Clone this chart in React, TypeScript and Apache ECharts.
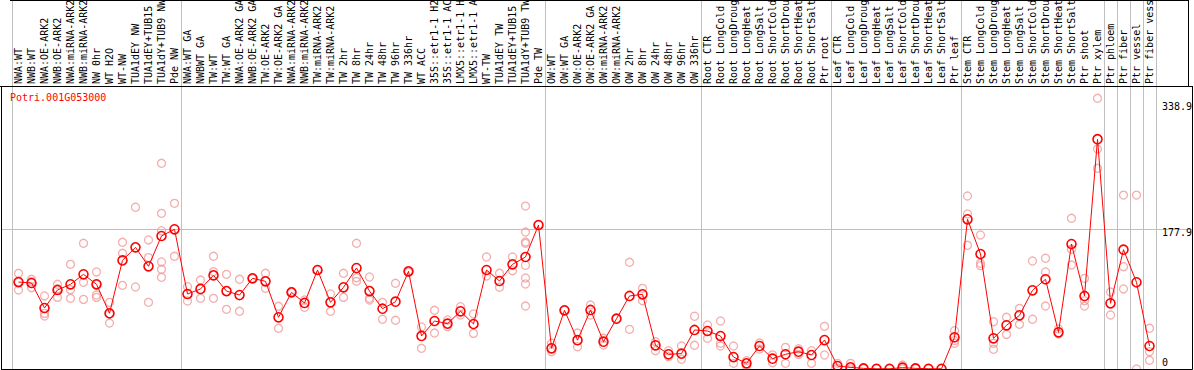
import React, { useEffect, useRef } from 'react';
import * as echarts from 'echarts';

const title = 'Potri.001G053000';

const categories = [
  'NWA:WT', 'NWB:WT', 'NWA:OE-ARK2', 'NWB:OE-ARK2', 'NWA:miRNA-ARK2', 'NWB:miRNA-ARK2', 'NW 0hr', 'WT H2O', 'WT-NW',
  'TUA1dEY NW', 'TUA1dEY+TUB15 NW', 'TUA1dY+TUB9 NW', 'Pde NW',
  'NWA:WT GA', 'NWBWT GA', 'TW:WT', 'TW:WT GA', 'NWA:OE-ARK2 GA', 'NWB:OE-ARK2 GA', 'TW:OE-ARK2', 'TW:OE-ARK2 GA',
  'NWA:miRNA-ARK2', 'NWB:miRNA-ARK2', 'TW:miRNA-ARK2', 'TW:miRNA-ARK2', 'TW 2hr', 'TW 8hr', 'TW 24hr', 'TW 48hr',
  'TW 96hr', 'TW 336hr', 'WT ACC', '35S::etr1-1 H2O', '35S::etr1-1 ACC', 'LMX5::etr1-1 H2O', 'LMX5::etr1-1 ACC',
  'WT-TW', 'TUA1dEY TW', 'TUA1dEY+TUB15 TW', 'TUA1dY+TUB9 TW', 'Pde TW',
  'OW:WT', 'OW:WT GA', 'OW:OE-ARK2', 'OW:OE-ARK2 GA', 'OW:miRNA-ARK2', 'OW:miRNA-ARK2', 'OW 2hr', 'OW 8hr',
  'OW 24hr', 'OW 48hr', 'OW 96hr', 'OW 336hr',
  'Root CTR', 'Root LongCold', 'Root LongDrought', 'Root LongHeat', 'Root LongSalt', 'Root ShortCold',
  'Root ShortDrought', 'Root ShortHeat', 'Root ShortSalt', 'Ptr root',
  'Leaf CTR', 'Leaf LongCold', 'Leaf LongDrought', 'Leaf LongHeat', 'Leaf LongSalt', 'Leaf ShortCold',
  'Leaf ShortDrought', 'Leaf ShortHeat', 'Leaf ShortSalt', 'Ptr leaf',
  'Stem CTR', 'Stem LongCold', 'Stem LongDrought', 'Stem LongHeat', 'Stem LongSalt', 'Stem ShortCold',
  'Stem ShortDrought', 'Stem ShortHeat', 'Stem ShortSalt', 'Ptr shoot', 'Ptr xylem',
  'Ptr phloem', 'Ptr fiber', 'Ptr vessel', 'Ptr fiber vessel',
];

const means = [
  110.5, 109.3, 77.5, 100.4, 107.6, 120.3, 107.6, 70.8, 138, 154.6, 130.5, 169, 177.5,
  95.3, 101.7, 119, 99, 94, 115.2, 111.4, 65.7, 97.4, 83.9, 125.8, 84.7, 103.8, 128.3, 99, 76.6,
  85.5, 124.1, 42, 61, 57.6, 73.3, 57.2, 125.8, 111.8, 133, 142.3, 183,
  26.3, 74.6, 36.6, 75, 34.7, 63.9, 92.8, 94.9, 30.1, 18.7, 19.5, 49.6,
  48.3, 41.9, 15.2, 7.2, 29.2, 13.1, 18.7, 22, 17.8, 36.8,
  3.8, 2.1, 0.8, 0.3, 0.3, 1.7, 0.8, 0.3, 0.3, 40.3,
  190.2, 146.1, 39, 55.5, 68.2, 100, 114, 46.6, 158.8, 92.8, 292,
  83.5, 151.6, 110.2, 29.2,
];

const replicates = [
  [121.6, 100.4, 110.5], [114, 103.3, 111], [92.8, 70.7, 67.3], [107.6, 91, 102], [133, 100.8, 89.8],
  [159.7, 110.2, 88.5], [123.3, 107.6, 94, 91], [84.7, 58.4, 70], [161, 147, 106.3], [205.5, 104.2],
  [164, 141.5, 84.7], [261.4, 197.8, 175.7, 136, 126.7, 116.5], [210.5, 143.2],
  [104.6, 86.4], [113, 89.8], [143.2, 123.7, 89.8], [120.3, 75.8], [114, 73.3], [115.2, 115],
  [121.6, 102.5], [79.7, 51.7], [97.4, 98.5], [87.7, 78.4], [125.8], [95.3, 73.3], [121.6, 91],
  [159.7, 116, 111.4], [116.9, 89.8, 87.7], [84.7, 63.2], [108.9, 61.9], [124.1, 123],
  [53.4, 26.3], [74.6, 45.7], [62.3, 53.8], [79.2, 68.6], [69.9, 45.3], [142.3, 118.2],
  [121.6, 103.8], [142.3, 124.9], [207, 174, 161.4, 159.7, 131.8, 115.6, 108, 80], [183],
  [32.7, 22], [74.6], [45.7, 28.3], [81.3, 68.6], [39, 30.5], [63.9], [135.6, 50.4], [102.5, 86.8],
  [34.7, 23.3], [23.3, 15.6], [29.2, 12.3], [67, 30.1],
  [55.9, 39], [61, 32.7, 29.2], [29.2, 7.2], [10.6, 4], [25.4, 33], [8, 18], [27.5, 7.2], [25.8, 18.6],
  [23.3, 7.2], [54.2, 17.8],
  [7.2, 1], [7.2, 0], [0.8], [0.3], [0.3], [5, 0], [0.8], [0.3], [0.3], [48.7, 36, 32.7],
  [219.8, 197, 157.2], [170.3, 134.3, 131.3], [60.1, 32.7, 25], [65.7, 44], [77.1, 56.8], [137.2, 63.2],
  [140.7, 123.3, 80], [50.8, 44.5], [191.5, 152.1, 132.1], [115.2, 86.8, 80], [344, 279.5, 255],
  [97.8, 68.6], [221, 130, 101.7], [221, 0], [51.7, 22, 11],
];

const groupStarts = [0, 13, 41, 53, 63, 73, 84, 85, 86, 87, 88];
const yTickLabels = [338.9, 177.9, 0];
const gridValue = 177.9;
const yMax = 359.6;

const FONT = '"DejaVu Sans Mono", monospace';

export default function App() {
  const ref = useRef<HTMLDivElement>(null);
  useEffect(() => {
    const chart = echarts.init(ref.current!, null, { renderer: 'svg' });
    const repData: number[][] = [];
    replicates.forEach((arr, i) => arr.forEach((v) => repData.push([i, v])));
    chart.setOption({
      animation: false,
      backgroundColor: '#ffffff',
      grid: { left: 12, right: 38, top: 86, bottom: 1, containLabel: false, outerBoundsMode: 'none' },
      xAxis: {
        type: 'category',
        data: categories,
        position: 'top',
        boundaryGap: true,
        axisLine: { show: false },
        axisTick: { show: false },
        splitLine: { show: false },
        axisLabel: {
          rotate: 90,
          interval: 0,
          margin: 2,
          fontFamily: FONT,
          fontSize: 10,
          color: '#000',
        },
      },
      yAxis: {
        type: 'value',
        min: 0,
        max: yMax,
        axisLine: { show: false },
        axisTick: { show: false },
        axisLabel: { show: false },
        splitLine: { show: false },
      },
      series: [
        {
          type: 'scatter',
          data: repData,
          symbol: 'circle',
          symbolSize: 8,
          z: 2,
          itemStyle: { color: 'rgba(255,255,255,0)', borderColor: '#f09a9a', borderWidth: 1.3 },
        },
        {
          type: 'line',
          data: means,
          symbol: 'circle',
          symbolSize: 9,
          showAllSymbol: true,
          z: 3,
          lineStyle: { color: '#ff0000', width: 1 },
          itemStyle: { color: 'rgba(255,255,255,0)', borderColor: '#ff0000', borderWidth: 1.6 },
        },
      ],
    });

    const px = (i: number) => chart.convertToPixel({ xAxisIndex: 0 }, i) as number;
    const py = (v: number) => chart.convertToPixel({ yAxisIndex: 0 }, v) as number;
    const bw = px(1) - px(0);
    const top = 86;
    const bottom = py(0);
    const headerRight = 1188.5;
    const plotRight = 1192.5;
    const els: any[] = [];
    groupStarts.forEach((g) => {
      const x = Math.round(px(0) + (g - 0.5) * bw) + 0.5;
      els.push({ type: 'line', z: 0, silent: true, shape: { x1: x, y1: 0, x2: x, y2: bottom }, style: { stroke: '#c0c0c0', lineWidth: 1 } });
    });
    const gy = Math.round(py(gridValue)) + 0.5;
    els.push({ type: 'line', z: 0, silent: true, shape: { x1: 1, y1: gy, x2: plotRight, y2: gy }, style: { stroke: '#c0c0c0', lineWidth: 1 } });
    // frame
    const fb = Math.round(bottom) + 0.5;
    els.push({ type: 'line', z: 10, silent: true, shape: { x1: 0, y1: top + 0.5, x2: plotRight, y2: top + 0.5 }, style: { stroke: '#000', lineWidth: 1 } });
    els.push({ type: 'line', z: 10, silent: true, shape: { x1: 1.5, y1: top, x2: 1.5, y2: fb }, style: { stroke: '#000', lineWidth: 1 } });
    els.push({ type: 'line', z: 10, silent: true, shape: { x1: 1, y1: fb, x2: plotRight, y2: fb }, style: { stroke: '#000', lineWidth: 1 } });
    els.push({ type: 'line', z: 10, silent: true, shape: { x1: headerRight, y1: 0, x2: headerRight, y2: top }, style: { stroke: '#000', lineWidth: 1 } });
    els.push({ type: 'line', z: 10, silent: true, shape: { x1: plotRight, y1: top, x2: plotRight, y2: fb }, style: { stroke: '#000', lineWidth: 1 } });
    els.push({ type: 'line', z: 10, silent: true, shape: { x1: 10, y1: 0.5, x2: headerRight, y2: 0.5 }, style: { stroke: '#000', lineWidth: 1 } });
    // y tick labels
    yTickLabels.forEach((v) => {
      const y = py(v);
      const yy = v === 0 ? y - 7 : y + 4;
      els.push({ type: 'text', z: 11, silent: true, x: 1162, y: yy, style: { text: String(v), fill: '#000', font: `10px ${FONT}`, align: 'left', verticalAlign: 'middle' } });
    });
    // title
    els.push({ type: 'text', z: 11, silent: true, x: 10, y: 97, style: { text: title, fill: '#ff0000', font: `10px ${FONT}`, align: 'left', verticalAlign: 'middle' } });
    chart.setOption({ graphic: els });
    return () => chart.dispose();
  }, []);
  return <div ref={ref} style={{ position: 'absolute', left: 0, top: 0, width: 1194, height: 370 }} />;
}
